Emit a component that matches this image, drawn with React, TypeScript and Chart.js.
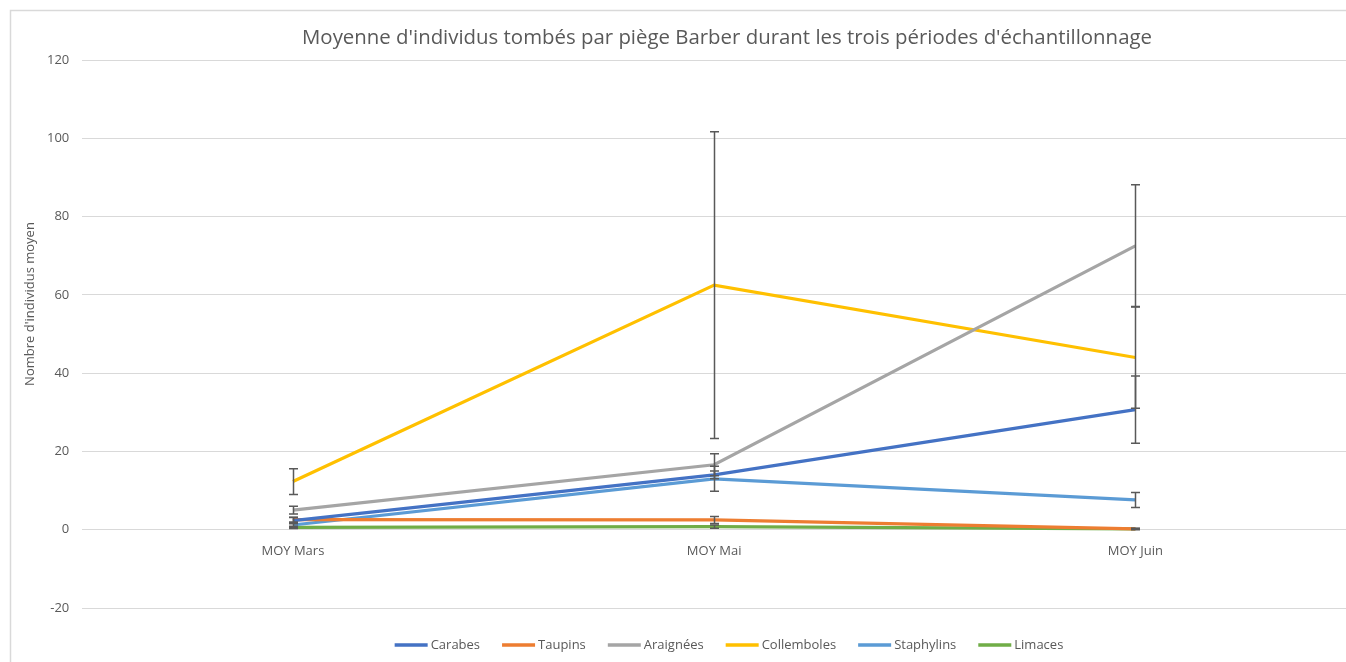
import React, { useEffect, useRef } from "react";
import { Chart, registerables } from "chart.js";

Chart.register(...registerables);

const categories = ["MOY Mars", "MOY Mai", "MOY Juin"];
const seriesNames = ["Carabes", "Taupins", "Araignées", "Collemboles", "Staphylins", "Limaces"];
const seriesColors = ["#4472C4", "#ED7D31", "#A5A5A5", "#FFC000", "#5B9BD5", "#70AD47"];

const carabes = [2.3, 14.0, 30.7];
const taupins = [2.6, 2.5, 0.2];
const araignees = [5.0, 16.6, 72.5];
const collemboles = [12.3, 62.5, 44.0];
const staphylins = [1.2, 13.0, 7.6];
const limaces = [0.6, 0.8, 0.2];

const carabesErr = [0.8, 1.0, 8.6];
const taupinsErr = [0.6, 0.9, 0.2];
const araigneesErr = [1.0, 2.8, 15.6];
const collembolesErr = [3.3, 39.2, 13.0];
const staphylinsErr = [0.6, 3.2, 1.9];
const limacesErr = [0.3, 0.4, 0.1];

const yTicks = [-20, 0, 20, 40, 60, 80, 100, 120];
const titleText = "Moyenne d'individus tombés par piège Barber durant les trois périodes d'échantillonnage";
const yAxisTitle = "Nombre d'individus moyen";

const seriesValues = [carabes, taupins, araignees, collemboles, staphylins, limaces];
const seriesErrors = [carabesErr, taupinsErr, araigneesErr, collembolesErr, staphylinsErr, limacesErr];

const FONT = "'Open Sans', 'Liberation Sans', sans-serif";
const TEXT = "#595959";

const framePlugin = {
  id: "frame",
  beforeDraw(chart: any) {
    const ctx = chart.ctx;
    ctx.save();
    ctx.fillStyle = "#fff";
    ctx.fillRect(0, 0, chart.width, chart.height);
    ctx.strokeStyle = "#D9D9D9";
    ctx.lineWidth = 1.5;
    ctx.beginPath();
    ctx.moveTo(10.5, chart.height);
    ctx.lineTo(10.5, 10.5);
    ctx.lineTo(chart.width, 10.5);
    ctx.stroke();
    ctx.restore();
  },
  afterDraw(chart: any) {
    const ctx = chart.ctx;
    ctx.save();
    ctx.fillStyle = TEXT;
    // chart title
    ctx.font = "20.4px " + FONT;
    ctx.textAlign = "center";
    ctx.textBaseline = "middle";
    ctx.fillText(titleText, 727, 38);
    // y axis title
    ctx.save();
    ctx.font = "13px " + FONT;
    ctx.translate(30, 304);
    ctx.rotate(-Math.PI / 2);
    ctx.fillText(yAxisTitle, 0, 0);
    ctx.restore();
    // legend
    ctx.font = "13px " + FONT;
    ctx.textAlign = "left";
    const sw = 33;
    const gapText = 3;
    const gapItem = 22;
    const widths = chart.data.datasets.map((ds: any) => sw + gapText + ctx.measureText(ds.label).width);
    const total = widths.reduce((a: number, b: number) => a + b, 0) + gapItem * (widths.length - 1);
    let x = 729 - total / 2;
    const y = 645;
    chart.data.datasets.forEach((ds: any, i: number) => {
      ctx.fillStyle = ds.borderColor;
      ctx.fillRect(x, y - 1.75, sw, 3.5);
      ctx.fillStyle = TEXT;
      ctx.fillText(ds.label, x + sw + gapText, y);
      x += widths[i] + gapItem;
    });
    ctx.restore();
  },
};

const errorBarPlugin = {
  id: "errorBars",
  afterDatasetsDraw(chart: any) {
    const ctx = chart.ctx;
    const yScale = chart.scales.y;
    ctx.save();
    ctx.strokeStyle = "#595959";
    ctx.lineWidth = 1.5;
    chart.data.datasets.forEach((ds: any, di: number) => {
      const meta = chart.getDatasetMeta(di);
      const errs = seriesErrors[di];
      meta.data.forEach((pt: any, i: number) => {
        const v = ds.data[i];
        const e = errs[i];
        const x = Math.round(pt.x) + 0.5;
        const yTop = yScale.getPixelForValue(v + e);
        const yBot = yScale.getPixelForValue(v - e);
        ctx.beginPath();
        ctx.moveTo(x, yTop);
        ctx.lineTo(x, yBot);
        ctx.moveTo(x - 4.5, yTop);
        ctx.lineTo(x + 4.5, yTop);
        ctx.moveTo(x - 4.5, yBot);
        ctx.lineTo(x + 4.5, yBot);
        ctx.stroke();
      });
    });
    ctx.restore();
  },
};

export default function App() {
  const ref = useRef<HTMLCanvasElement | null>(null);
  useEffect(() => {
    document.body.style.margin = "0";
    const chart = new Chart(ref.current as HTMLCanvasElement, {
      type: "line",
      data: {
        labels: categories,
        datasets: seriesNames.map((name, i) => ({
          label: name,
          data: seriesValues[i],
          borderColor: seriesColors[i],
          backgroundColor: seriesColors[i],
          borderWidth: 3.2,
          pointRadius: 0,
          tension: 0,
        })),
      },
      options: {
        animation: false,
        responsive: false,
        layout: { padding: { left: 34, right: -5, top: 60, bottom: 54 } },
        plugins: {
          title: { display: false },
          legend: { display: false },
          tooltip: { enabled: false },
        },
        scales: {
          x: {
            type: "category",
            offset: true,
            position: { y: 0 },
            grid: { display: false },
            border: { display: false },
            ticks: { color: TEXT, font: { family: FONT, size: 13 }, padding: 6 },
          },
          y: {
            min: -20,
            max: 120,
            afterBuildTicks: (s: any) => {
              s.ticks = yTicks.map((v) => ({ value: v }));
            },
            grid: { color: "#D9D9D9", lineWidth: 1, drawTicks: false },
            border: { display: false },
            ticks: { color: TEXT, font: { family: FONT, size: 13 }, padding: 13 },
          },
        },
      },
      plugins: [framePlugin, errorBarPlugin],
    } as any);
    return () => chart.destroy();
  }, []);
  return (
    <div style={{ position: "absolute", left: 0, top: 0, width: 1346, height: 662, background: "#fff" }}>
      <canvas ref={ref} width={1346} height={662} />
    </div>
  );
}
